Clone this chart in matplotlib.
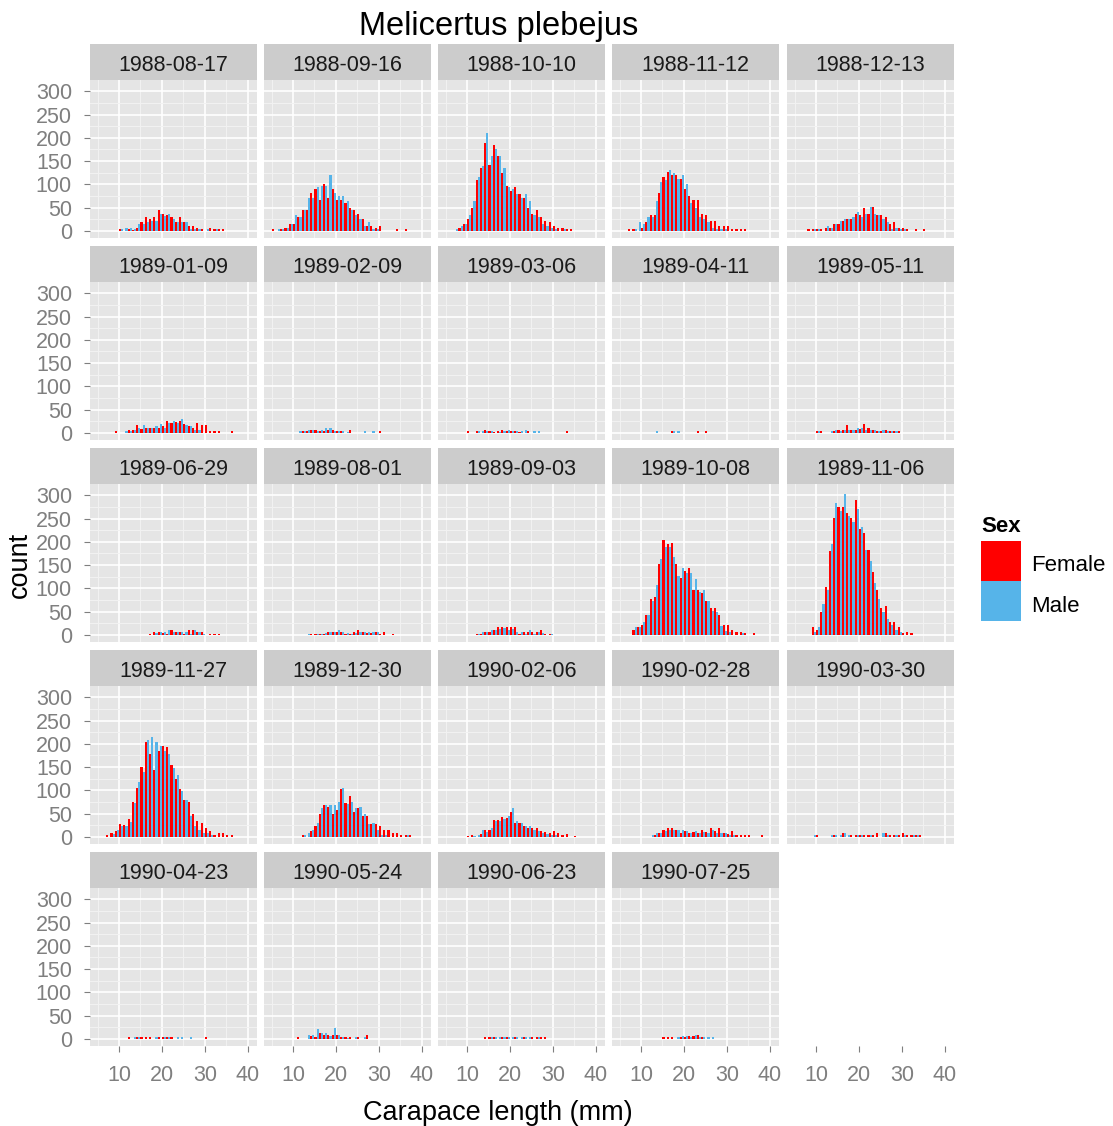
import numpy as np
import matplotlib
matplotlib.use('Agg')
import matplotlib.pyplot as plt
from matplotlib.patches import Rectangle

plt.rcParams['font.family'] = ['Liberation Sans', 'DejaVu Sans']

# ---------------- data ----------------
bin_starts = list(range(5, 41))          # carapace length bins (mm), width 1
dates = ["1988-08-17", "1988-09-16", "1988-10-10", "1988-11-12", "1988-12-13",
         "1989-01-09", "1989-02-09", "1989-03-06", "1989-04-11", "1989-05-11",
         "1989-06-29", "1989-08-01", "1989-09-03", "1989-10-08", "1989-11-06",
         "1989-11-27", "1989-12-30", "1990-02-06", "1990-02-28", "1990-03-30",
         "1990-04-23", "1990-05-24", "1990-06-23", "1990-07-25"]

# counts per bin, bins 5..40
f_880817 = [0,0,0,0,0, 3,0,3,2,6, 19,29,25,29,44, 36,33,29,19,29, 19,10,10,6,3, 0,6,3,3,3]
m_880817 = [0,0,0,0,0, 3,6,6,3,14, 14,19,22,21,36, 31,36,25,19,19, 19,3,3,3,0, 3,0,3,0,0]
f_880916 = [3,0,3,6,14, 14,29,44,44,81, 90,66,100,70,90, 66,66,60,49,44, 36,25,10,10,6, 10,0,0,0,3, 0,3]
m_880916 = [0,3,3,6,14, 34,30,44,70,70, 94,96,96,120,81, 75,75,64,45,34, 25,10,19,3,3]
f_881010 = [0,0,0,6,14, 25,49,109,135,190, 141,184,160,124,96, 85,94,79,70,49, 36,44,29,21,19, 10,6,6,3,3]
m_881010 = [0,0,3,10,14, 34,64,115,140,210, 160,175,160,135,94, 90,79,70,79,64, 34,30,14,10,6, 3,0,3]
f_881112 = [0,0,3,3,0, 6,19,34,34,81, 115,126,120,120,111, 90,75,66,66,36, 34,21,21,10,10, 10,3,3,3,3]
m_881112 = [0,0,0,3,19, 14,29,29,64,105, 109,130,124,111,120, 100,60,50,29,25, 19,6,3,3,3]
f_881213 = [0,0,0,3,3, 3,3,6,6,14, 14,21,25,25,36, 34,49,36,51,34, 34,29,14,19,6, 6,3,0,3,0, 3]
m_881213 = [0,0,0,0,3, 3,0,10,6,14, 21,25,25,29,40, 29,36,51,36,34, 25,19,3,6,3, 3]
f_890109 = [0,0,0,0,3, 0,0,7,5,16, 8,11,11,11,11, 14,26,21,24,26, 18,14,11,21,16, 16,3,3,3,0, 0,3]
m_890109 = [0,0,0,0,0, 0,3,3,7,11, 16,11,11,14,18, 11,21,26,22,29, 16,14,7,7,0]
f_890209 = [0,0,0,0,0, 0,0,3,3,7, 7,4,3,7,5, 3,3,0,7,0, 0,0,0,0,0, 3]
m_890209 = [0,0,0,0,0, 0,3,3,7,7, 4,5,11,11,3, 3,3,2,0,0, 0,3,0,3]
f_890306 = [0,0,0,0,0, 3,0,3,0,7, 3,2,3,7,3, 3,3,2,0,3, 0,0,0,0,0, 0,0,0,3]
m_890306 = [0,0,0,0,0, 0,0,3,3,3, 3,0,2,3,7, 3,3,3,7,0, 3,3]
f_890411 = [0,0,0,0,0, 0,0,0,0,0, 0,0,3,0,0, 0,0,0,3,0, 3]
m_890411 = [0,0,0,0,0, 0,0,0,3,0, 0,0,3,3]
f_890511 = [0,0,0,0,0, 3,3,0,0,3, 7,7,16,5,7, 8,18,11,7,3, 4,7,3,3,3]
m_890511 = [0,0,0,0,0, 3,0,0,3,7, 3,5,7,7,11, 11,7,7,7,4, 5,3,3,3]
f_890629 = [0,0,0,0,0, 0,0,0,0,0, 0,0,2,7,7, 3,2,11,7,7, 2,11,11,7,7, 0,2,2,2]
m_890629 = [0,0,0,0,0, 0,0,0,0,0, 0,0,0,3,5, 7,11,7,7,7, 7,2,11,7,2]
f_890801 = [0,0,0,0,0, 0,0,0,0,2, 2,2,2,7,5, 7,7,2,2,7, 11,7,3,3,7, 2,7,0,2]
m_890801 = [0,0,0,0,0, 0,0,0,2,0, 2,2,3,7,7, 11,7,3,2,3, 7,7,5,7,7]
f_890903 = [0,0,0,0,0, 0,0,2,2,7, 7,11,16,16,16, 16,16,2,7,5, 7,5,11,2,2]
m_890903 = [0,0,0,0,0, 0,0,2,7,7, 11,11,13,14,11, 13,7,7,2,11, 2,7,4,0,2]
f_891008 = [0,0,0,11,16, 22,42,78,82,153, 203,196,198,153,123, 138,143,97,97,91, 72,57,57,42,22, 22,11,7,7,3, 0,3]
m_891008 = [0,0,0,16,16, 27,42,72,108,164, 188,188,168,127,143, 132,132,121,93,97, 72,52,48,18,8, 7,0,0,3]
f_891106 = [0,0,0,0,16, 11,48,102,181,252, 274,274,263,252,289, 228,218,183,136,97, 57,63,27,27,16, 3,7,3]
m_891106 = [0,0,0,0,7, 16,67,97,196,284, 267,304,256,243,271, 233,183,158,112,76, 48,33,22,11,7]
f_891127 = [0,0,3,8,12, 27,25,38,74,105, 150,203,178,143,184, 195,193,154,124,102, 79,74,49,34,29, 19,12,3,8,8, 3,3]
m_891127 = [0,0,0,6,14, 23,23,31,72,117, 139,208,214,203,195, 184,178,148,133,98, 79,44,23,14,8, 8,3]
f_891230 = [0,0,0,0,0, 0,0,3,0,12, 23,49,68,64,50, 57,102,72,87,53, 62,44,44,27,27, 23,14,14,8,8, 3,3,3]
m_891230 = [0,0,0,0,0, 0,0,3,8,14, 29,62,68,68,68, 75,105,70,75,62, 64,49,27,29,14, 3,3,0,0,0, 0,3]
f_900206 = [0,0,0,0,0, 2,4,0,5,14, 14,37,37,42,40, 53,30,29,23,20, 19,19,12,10,9, 12,9,3,5,0, 2]
m_900206 = [0,0,0,0,0, 0,2,4,14,10, 19,34,35,39,45, 62,34,29,23,23, 15,12,9,5,4, 3]
f_900228 = [0,0,0,0,0, 0,0,0,4,9, 14,19,19,14,9, 12,9,10,9,14, 10,19,12,19,9, 6,12,4,4,4, 4,0,0,4]
m_900228 = [0,0,0,0,0, 0,0,4,9,9, 12,14,14,14,14, 12,9,12,9,11, 9,14,9,9,9, 4,4]
f_900330 = [0,0,0,0,0, 4,0,0,0,4, 0,8,0,4,4, 4,4,4,4,8, 0,8,4,4,4, 8,4,4,4,4]
m_900330 = [0,0,0,0,4, 0,0,0,4,4, 4,8,4,0,4, 4,0,4,0,0, 8,4,0,4,0, 4,0,4,4]
f_900423 = [0,0,0,0,0, 0,0,4,0,4, 4,4,4,0,4, 4,4,4,0,0, 0,0,0,0,0, 4]
m_900423 = [0,0,0,0,0, 0,0,0,4,4, 0,0,0,4,0, 4,4,0,4,4, 0,4]
f_900524 = [0,0,0,0,0, 0,4,0,0,5, 4,12,8,8,8, 8,4,4,4,0, 4,0,8]
m_900524 = [0,0,0,0,0, 0,0,0,8,8, 21,12,12,5,24, 8,4,2,0,4, 0,4]
f_900623 = [0,0,0,0,0, 0,0,0,0,4, 4,4,0,4,4, 0,4,0,4,0, 4,4,4,4]
m_900623 = [0,0,0,0,0, 0,0,0,0,0, 4,4,4,4,4, 4,4,4,4,4, 0,4]
f_900725 = [0,0,0,0,0, 0,0,0,0,0, 4,4,4,0,4, 4,6,6,8,4]
m_900725 = [0,0,0,0,0, 0,0,0,0,0, 0,0,0,4,6, 6,4,9,4,4, 4,4]

female = [f_880817, f_880916, f_881010, f_881112, f_881213, f_890109, f_890209, f_890306,
          f_890411, f_890511, f_890629, f_890801, f_890903, f_891008, f_891106, f_891127,
          f_891230, f_900206, f_900228, f_900330, f_900423, f_900524, f_900623, f_900725]
male = [m_880817, m_880916, m_881010, m_881112, m_881213, m_890109, m_890209, m_890306,
        m_890411, m_890511, m_890629, m_890801, m_890903, m_891008, m_891106, m_891127,
        m_891230, m_900206, m_900228, m_900330, m_900423, m_900524, m_900623, m_900725]

sexes = ["Female", "Male"]
colors = ["#FF0000", "#56B4E9"]


def full(v):
    v = list(v)
    return v + [0] * (len(bin_starts) - len(v))


# ---------------- layout ----------------
W, H = 1113, 1126
fig = plt.figure(figsize=(W / 100, H / 100), dpi=100)
col_left = [90, 264, 438, 612, 787]
row_top = [80, 282, 484, 686, 888]
panel_w, panel_h, strip_h = 166.5, 158, 36
XLIM = (3.24, 42.05)
YLIM = (-15.5, 324.5)
GREY = '#7F7F7F'
FS = 15.5


def fr(x, y, w, h):
    return [x / W, 1 - (y + h) / H, w / W, h / H]


def style(ax, show_x, show_y):
    ax.set_facecolor('#E5E5E5')
    ax.set_xlim(*XLIM)
    ax.set_ylim(*YLIM)
    ax.set_xticks([10, 20, 30, 40])
    ax.set_xticks([5, 15, 25, 35], minor=True)
    ax.set_yticks(range(0, 301, 50))
    ax.set_yticks(range(25, 301, 50), minor=True)
    ax.grid(which='major', color='white', lw=1.2)
    ax.grid(which='minor', color='#F2F2F2', lw=0.7)
    ax.set_axisbelow(True)
    for s in ax.spines.values():
        s.set_visible(False)
    ax.tick_params(which='minor', length=0)
    ax.tick_params(axis='x', which='major', length=4 if show_x else 0, color=GREY,
                   labelbottom=show_x, labelsize=FS, labelcolor=GREY, pad=10)
    ax.tick_params(axis='y', which='major', length=4 if show_y else 0, color=GREY,
                   labelleft=show_y, labelsize=FS, labelcolor=GREY, pad=9)


n = len(dates)
for i, d in enumerate(dates):
    r, c = divmod(i, 5)
    x0, y0 = col_left[c], row_top[r]
    sax = fig.add_axes(fr(x0, y0 - strip_h, panel_w, strip_h))
    sax.set_facecolor('#CCCCCC')
    sax.set_xticks([])
    sax.set_yticks([])
    for s in sax.spines.values():
        s.set_visible(False)
    sax.text(0.5, 0.40, d, ha='center', va='center', fontsize=FS, color='#1A1A1A',
             transform=sax.transAxes)

    ax = fig.add_axes(fr(x0, y0, panel_w, panel_h))
    style(ax, show_x=(r == 4), show_y=(c == 0))
    fvals = full(female[i])
    mvals = full(male[i])
    ax.bar(bin_starts, fvals, width=0.5, align='edge', color=colors[0], lw=0,
           antialiased=False, zorder=2)
    ax.bar([b + 0.5 for b in bin_starts], mvals, width=0.5, align='edge',
           color=colors[1], lw=0, antialiased=False, zorder=2)

# x axis under the empty slot of column 5
eax = fig.add_axes(fr(col_left[4], row_top[4], panel_w, panel_h))
eax.set_xlim(*XLIM)
eax.patch.set_visible(False)
for s in eax.spines.values():
    s.set_visible(False)
eax.set_xticks([10, 20, 30, 40])
eax.set_yticks([])
eax.tick_params(axis='x', length=4, color=GREY, labelsize=FS, labelcolor=GREY, pad=10)

# titles
fig.text(499 / W, 1 - 27 / H, "Melicertus plebejus", ha='center', va='center',
         fontsize=23.5, color='black')
fig.text(498 / W, 1 - 1113 / H, "Carapace length (mm)", ha='center', va='center',
         fontsize=19.5, color='black')
fig.text(20 / W, 1 - 565 / H, "count", ha='center', va='center', rotation=90,
         fontsize=19.5, color='black')

# legend
fig.text(981 / W, 1 - 526 / H, "Sex", ha='left', va='center', fontsize=16,
         fontweight='bold', color='black')
for j, (lab, col) in enumerate(zip(sexes, colors)):
    ytop = 541 + j * 40
    fig.patches.append(Rectangle((981 / W, 1 - (ytop + 39.5) / H), 40 / W, 39.5 / H,
                                 transform=fig.transFigure, facecolor=col, lw=0))
    fig.text(1031 / W, 1 - (ytop + 25) / H, lab, ha='left', va='center', fontsize=16,
             color='black')

fig.savefig('out.png', dpi=100)
